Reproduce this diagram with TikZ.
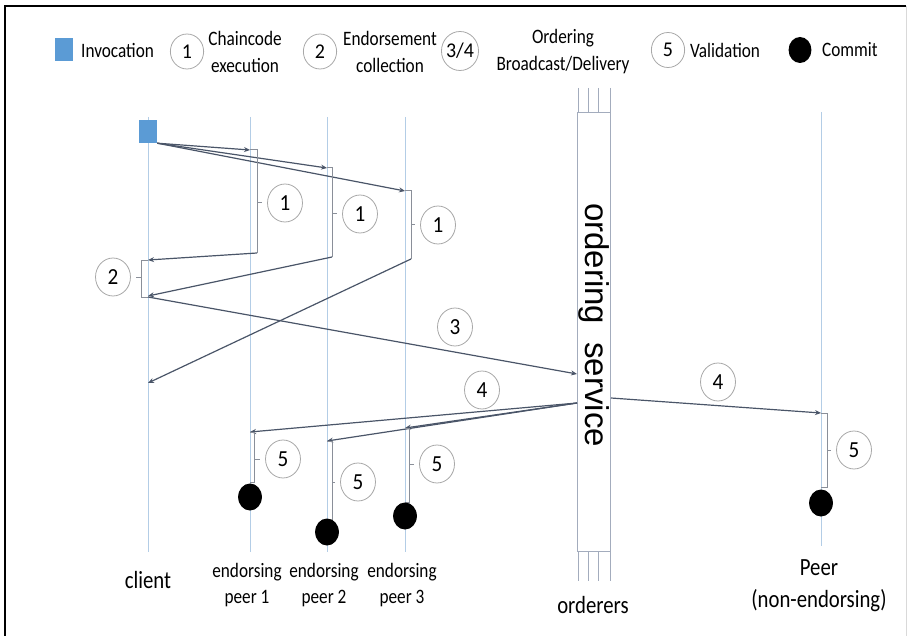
\documentclass[tikz,border=0pt]{standalone}
\usepackage{fontspec}
\setmainfont{Carlito}
\newfontfamily\arialfont{Liberation Sans}
\usetikzlibrary{arrows.meta}
\definecolor{lifeblue}{HTML}{B3CDE6}
\definecolor{msggray}{HTML}{4A5568}
\definecolor{bracegray}{HTML}{8A8F99}
\definecolor{ringgray}{HTML}{A8A8A8}
\definecolor{keyblue}{HTML}{5B9BD5}
\definecolor{ordgray}{HTML}{A3ACBD}

\begin{document}
\begin{tikzpicture}[x=1pt,y=-1pt,
    lifeline/.style={draw=lifeblue, line width=1pt},
    ordline/.style={draw=ordgray, line width=0.9pt},
    msg/.style={draw=msggray, line width=1.2pt, -{Stealth[length=6pt,width=5pt]}},
    brace/.style={draw=bracegray, line width=1pt},
    stepnum/.style={circle, draw=ringgray, line width=0.8pt, minimum size=38pt, inner sep=0pt, xscale=0.92, font=\fontsize{23}{23}\selectfont},
    keynum/.style={circle, draw=ringgray, line width=0.8pt, minimum size=35pt, inner sep=0pt, xscale=0.95, font=\fontsize{21}{21}\selectfont},
    commitdot/.style={circle, fill=black, minimum size=27pt, inner sep=0pt, xscale=0.88},
    keysq/.style={fill=keyblue, minimum width=18pt, minimum height=23pt, inner sep=0pt},
    keytext/.style={font=\fontsize{20.5}{27}\selectfont, align=center, inner sep=0pt, xscale=0.84},
    peertext/.style={font=\fontsize{20.5}{26.6}\selectfont, align=center, inner sep=0pt, xscale=0.84},
    roletext/.style={font=\fontsize{24.7}{31.7}\selectfont, align=center, inner sep=0pt, xscale=0.84}]
    \useasboundingbox (0,0) rectangle (909,636);
    % frame
    \draw[black, line width=2.5pt] (5,636) -- (5,6) -- (906,6);
    \draw[black!15, line width=1pt] (906,6) -- (906,636);

    % legend
    \node[keysq] (kinv) at (64,49.5) {};
    \node[keytext, anchor=west] (tinv) at (81,50) {Invocation};
    \node[keynum] (k1) at (187,51.5) {1};
    \node[keytext] (t1) at (245,51.5) {Chaincode\\execution};
    \node[keynum] (k2) at (320,51.5) {2};
    \node[keytext] (t2) at (390,51.5) {Endorsement\\collection};
    \node[keynum, minimum size=39pt] (k34) at (460,51) {3/4};
    \node[keytext] (t34) at (563,51.5) {Ordering\\Broadcast/Delivery};
    \node[keynum] (k5) at (668,50) {5};
    \node[keytext, anchor=west] (t5) at (690,50) {Validation};
    \node[commitdot, minimum size=26pt] (kdot) at (800,50) {};
    \node[keytext, anchor=west] (tdot) at (822,50) {Commit};

    % lifelines
    \foreach \n/\x/\t/\b in {cl/148/117/552, p1/250/117/552, p2/327/117/552, p3/405/117/552, p4/821/112/546} {
        \coordinate (\n top) at (\x,\t);
        \coordinate (\n bot) at (\x,\b);
        \draw[lifeline] (\n top) -- (\n bot);
    }

    % orderers
    \foreach \x in {578,588,598,610}
        \draw[ordline] (\x,88) -- (\x,581);
    \node[draw=ordgray, fill=white, line width=0.9pt, minimum width=33pt, minimum height=439pt, inner sep=0pt] (os) at (594,331.5) {};
    \node[rotate=-90, inner sep=0pt, font=\arialfont\fontsize{33}{33}\selectfont] (ostext) at (594,325) {ordering~~service};
    \coordinate (osin) at (577,374);
    \coordinate (osout) at (577,403);
    \coordinate (osright) at (611,398);

    % invocation
    \node[keysq] (inv) at (148,131.5) {};
    \coordinate (a1) at (250,150);
    \coordinate (a2) at (327,168);
    \coordinate (a3) at (405,191);
    \foreach \k in {1,2,3}
        \draw[msg] (inv.south east) -- (a\k);

    % chaincode execution
    \foreach \k/\dx/\by/\ty/\cx in {1/7/253/203/285, 2/5/257/214/360, 3/6/259/225/438} {
        \draw[brace] (a\k) -- ++(\dx,0) coordinate (s\k) -- (s\k |- 0,\by) coordinate (b\k);
        \node[stepnum] (n1\k) at (\cx,\ty) {1};
        \draw[brace, shorten >=5pt] (s\k |- 0,\ty) -- (n1\k.west);
    }

    % endorsement collection
    \coordinate (r1) at (148,260);
    \coordinate (r2) at (148,296);
    \coordinate (r3) at (148,383);
    \foreach \k in {1,2,3}
        \draw[msg] (b\k) -- (r\k);
    \coordinate (cb) at (148,297);
    \draw[brace] (r1) -- (141,260) -- (141,297) -- (cb);
    \node[stepnum] (n2) at (113,277) {2};
    \draw[brace, shorten >=5pt] (141,277) -- (n2.east);

    % broadcast
    \draw[msg] (cb) -- (osin);
    \node[stepnum] (n3) at (455,327) {3};

    % delivery
    \coordinate (d1) at (250,432);
    \coordinate (d2) at (327,441);
    \coordinate (d3) at (405,428);
    \coordinate (d4) at (821,413);
    \foreach \k in {1,2,3}
        \draw[msg] (osout) -- (d\k);
    \draw[msg] (osright) -- (d4);
    \node[stepnum] (n4l) at (482,390) {4};
    \node[stepnum] (n4r) at (718,382) {4};

    % validation and commit
    \foreach \k/\dx/\ey/\ty/\cx/\dy in {1/4/482/459/283/497, 2/5/520/482/358/532, 3/4/502/464/437/516, 4/6/487/450/854/503} {
        \coordinate (e\k) at (d\k |- 0,\ey);
        \draw[brace] (d\k) -- ++(\dx,0) coordinate (v\k) |- (e\k);
        \node[stepnum] (n5\k) at (\cx,\ty) {5};
        \draw[brace, shorten >=5pt] (v\k |- 0,\ty) -- (n5\k.west);
        \node[commitdot] (dot\k) at (d\k |- 0,\dy) {};
    }

    % roles
    \node[roletext] (lcl) at (148,580) {client};
    \node[peertext] (lp1) at (247,585) {endorsing\\peer 1};
    \node[peertext] (lp2) at (324,585) {endorsing\\peer 2};
    \node[peertext] (lp3) at (402,585) {endorsing\\peer 3};
    \node[roletext] (lord) at (593,605) {orderers};
    \node[roletext] (lp4) at (819,586) {Peer\\(non-endorsing)};
\end{tikzpicture}
\end{document}
